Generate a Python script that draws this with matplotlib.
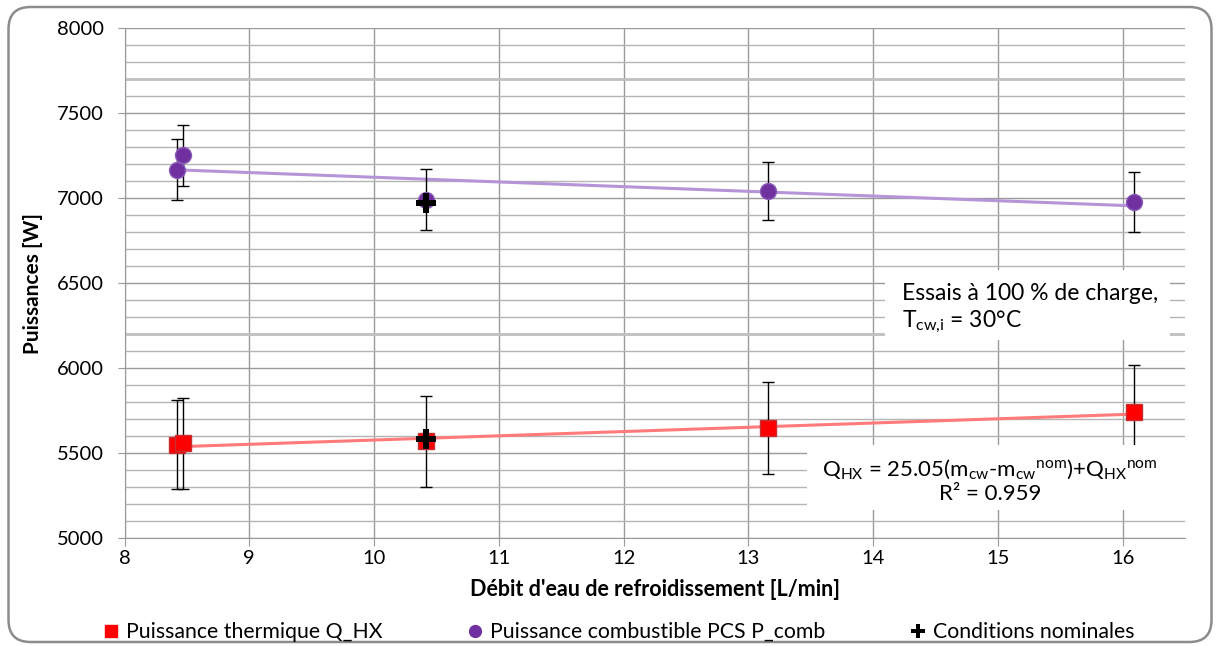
import matplotlib
matplotlib.use("Agg")
import matplotlib.pyplot as plt
from matplotlib.lines import Line2D
from matplotlib.patches import Rectangle, FancyBboxPatch

plt.rcParams['font.family'] = ['Lato', 'DejaVu Sans']
plt.rcParams['mathtext.fontset'] = 'custom'
plt.rcParams['mathtext.rm'] = 'Lato'
plt.rcParams['mathtext.default'] = 'regular'

# Data
debit = [8.42, 8.47, 10.42, 13.16, 16.09]          # L/min
q_hx = [5549, 5557, 5570, 5648, 5741]               # W
q_hx_err = [262, 266, 268, 270, 280]
p_comb = [7167, 7252, 6990, 7043, 6980]             # W
p_comb_err = [180, 178, 179, 172, 177]

nominal_x = [10.42, 10.42]
nominal_y = [6972, 5582]

trend_x = [8.42, 16.09]
trend_q = [5537, 5729]
trend_p = [7167, 6955]

W, H = 1218, 646
fig = plt.figure(figsize=(W / 100, H / 100), dpi=100)


def px(x, y):
    # pixel position (from top-left) -> figure fraction
    return x / W, 1 - y / H


ax = fig.add_axes([124.5 / W, 1 - 538 / H, (1185 - 124.5) / W, (538 - 28.3) / H])
ax.set_xlim(8, 16.5)
ax.set_ylim(5000, 8000)
ax.set_xticks(range(8, 17))
ax.set_yticks(range(5000, 8001, 500))
ax.set_yticks(range(5000, 8001, 100), minor=True)

ax.grid(True, which='major', color='#9a9a9a', lw=1)
ax.grid(True, which='minor', axis='y', color='#b4b4b4', lw=1)
for yy in [7700, 6200]:
    ax.axhline(yy, color='#c0c0c0', lw=2, zorder=0.6)
ax.set_axisbelow(True)

for s in ['top', 'right']:
    ax.spines[s].set_visible(False)
for s in ['left', 'bottom']:
    ax.spines[s].set_color('#9a9a9a')
ax.tick_params(axis='y', which='major', length=5, color='#9a9a9a', labelsize=14.5, pad=10)
ax.tick_params(axis='y', which='minor', length=0)
ax.tick_params(axis='x', length=6, color='#9a9a9a', labelsize=14.5, pad=3)

# trend lines
ax.plot(trend_x, trend_q, color='#ff7a7a', lw=2.2, zorder=2)
ax.plot(trend_x, trend_p, color='#b594d8', lw=2.2, zorder=2)

# error bars
ax.errorbar(debit, q_hx, yerr=q_hx_err, fmt='none', ecolor='black', elinewidth=1, capsize=4, capthick=1, zorder=3)
ax.errorbar(debit, p_comb, yerr=p_comb_err, fmt='none', ecolor='black', elinewidth=1, capsize=4, capthick=1, zorder=3)

# markers
ax.plot(debit, q_hx, ls='none', marker='s', ms=11.5, color='#ff0000', mec='#c43030', mew=1, zorder=4)
ax.plot(debit, p_comb, ls='none', marker='o', ms=11.5, color='#7030a0', mec='#8a5cb8', mew=1, zorder=4)
ax.plot(nominal_x, nominal_y, ls='none', marker='P', ms=15, color='black', mew=0, zorder=5)

ax.set_xlabel("Débit d'eau de refroidissement [L/min]", fontsize=15.5, fontweight='bold', labelpad=8)
ax.set_ylabel("Puissances [W]", fontsize=15, fontweight='bold', labelpad=10)

# white text boxes (drawn over grid and data)
x0, y0 = px(885, 340)
x1, y1 = px(1170, 270)
ax.add_patch(Rectangle((x0, y0), x1 - x0, y1 - y0, transform=fig.transFigure,
                       facecolor='white', edgecolor='none', zorder=8, clip_on=False))
x0, y0 = px(807, 510)
x1, y1 = px(1186, 445)
ax.add_patch(Rectangle((x0, y0), x1 - x0, y1 - y0, transform=fig.transFigure,
                       facecolor='white', edgecolor='none', zorder=8, clip_on=False))

tx, ty = px(902, 309)
fig.text(tx, ty, "Essais à 100 % de charge,\nT$_{cw{,}i}$ = 30°C", fontsize=16.5,
         ha='left', va='center', linespacing=1.25, zorder=10)
tx, ty = px(990, 481)
fig.text(tx, ty, "Q$_{HX}$ = 25.05(m$_{cw}$-m$_{cw}$$^{nom}$)+Q$_{HX}$$^{nom}$\nR² = 0.959",
         fontsize=16, ha='center', va='center', multialignment='center', linespacing=1.2, zorder=10)

# legend
handles = [
    Line2D([], [], ls='none', marker='s', ms=9, color='#ff0000', mec='#ff0000'),
    Line2D([], [], ls='none', marker='o', ms=8.5, color='#7030a0', mec='#7030a0'),
    Line2D([], [], ls='none', marker='P', ms=10, color='black', mew=0),
]
labels = ["Puissance thermique Q_HX", "Puissance combustible PCS P_comb", "Conditions nominales"]
lx, ly = px(619, 632)
fig.legend(handles, labels, loc='center', bbox_to_anchor=(lx, ly), ncol=3, frameon=False,
           fontsize=15.3, handlelength=0.7, handletextpad=0.35, columnspacing=4.0, borderpad=0)

# rounded chart border
fig.patches.append(FancyBboxPatch((8.5, 4), 1203, 635, boxstyle='round,pad=0,rounding_size=22',
                                  transform=None, facecolor='none', edgecolor='#8c8c8c', lw=1.8))

fig.savefig("out.png", dpi=100)
